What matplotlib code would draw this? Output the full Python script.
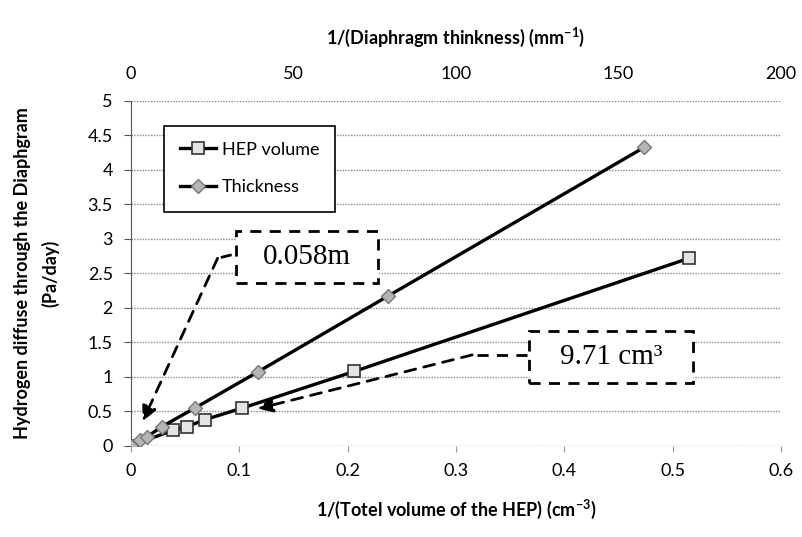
import matplotlib
matplotlib.use("Agg")
import matplotlib.pyplot as plt
from matplotlib.patches import Rectangle

# HEP volume series (bottom axis: 1/volume, cm^-3)
hep_x = [0, 0.039, 0.052, 0.068, 0.103, 0.206, 0.515]
hep_y = [0, 0.23, 0.28, 0.38, 0.55, 1.08, 2.72]

# Thickness series (top axis: 1/thickness, mm^-1)
thk_x = [0, 2.8, 4.9, 9.5, 19.7, 39.1, 79, 158]
thk_y = [0, 0.087, 0.13, 0.28, 0.55, 1.075, 2.17, 4.33]

yticks = [0, 0.5, 1, 1.5, 2, 2.5, 3, 3.5, 4, 4.5, 5]
bottom_ticks = [0, 0.1, 0.2, 0.3, 0.4, 0.5, 0.6]
top_ticks = [0, 50, 100, 150, 200]

plt.rcParams['font.family'] = ['Lato', 'DejaVu Sans']
plt.rcParams['mathtext.fontset'] = 'custom'
plt.rcParams['mathtext.rm'] = 'Lato'
plt.rcParams['mathtext.bf'] = 'Lato:bold'

fig = plt.figure(figsize=(8.03, 5.37), dpi=100)
ax = fig.add_axes([0.163, 0.1695, 0.8096, 0.6425])
ax2 = ax.twiny()

ln1, = ax.plot(hep_x, hep_y, color='black', lw=2.4, marker='s', ms=9,
               mfc='#e4e4e4', mec='#333333', mew=1.2, zorder=3)
ln2, = ax2.plot(thk_x, thk_y, color='black', lw=2.4, marker='D', ms=7,
                mfc='#b5b5b5', mec='#777777', mew=1, zorder=3)

ax.set_xlim(0, 0.6)
ax.set_ylim(0, 5)
ax2.set_xlim(0, 200)
ax.set_yticks(yticks)
ax.set_yticklabels(['0', '0.5', '1', '1.5', '2', '2.5', '3', '3.5', '4', '4.5', '5'])
ax.set_xticks(bottom_ticks)
ax.set_xticklabels(['0', '0.1', '0.2', '0.3', '0.4', '0.5', '0.6'])
ax2.set_xticks(top_ticks)

ax.yaxis.grid(True, linestyle=(0, (1, 1)), color='#8a8a8a', lw=1)
ax.set_axisbelow(True)
for a in (ax, ax2):
    a.spines['top'].set_visible(False)
    a.spines['right'].set_visible(False)
    a.spines['bottom'].set_visible(False)
ax.spines['left'].set_color('#555555')
ax2.spines['left'].set_visible(False)
ax.tick_params(axis='y', labelsize=13, length=5, color='#555555', pad=8)
ax.tick_params(axis='x', labelsize=13, length=4, color='#999999', pad=8)
ax2.tick_params(axis='x', labelsize=13, length=0, pad=14)

ax.set_xlabel(r'1/(Totel volume of the HEP) (cm$^{\mathbf{-3}}$)', fontsize=13,
              fontweight='bold', labelpad=14)
ax2.set_xlabel(r'1/(Diaphragm thinkness) (mm$^{\mathbf{-1}}$)', fontsize=13,
               fontweight='bold', labelpad=16)
ax.set_ylabel('Hydrogen diffuse through the Diaphgram\n(Pa/day)', fontsize=13,
              fontweight='bold', labelpad=20, linespacing=1.7)

leg = ax2.legend([ln1, ln2], ['HEP volume', 'Thickness'], loc='upper left',
                 bbox_to_anchor=(0.037, 0.955), fontsize=13, frameon=True,
                 fancybox=False, edgecolor='black', framealpha=1,
                 handlelength=2.0, handletextpad=0.3, labelspacing=1.2,
                 borderpad=0.9)
leg.get_frame().set_linewidth(1.2)

# dashed annotation boxes
for (x0, y0, w, h, txt) in [(0.097, 2.36, 0.131, 0.76, '0.058m'),
                            (0.367, 0.91, 0.152, 0.75, '9.71 cm³')]:
    ax.add_patch(Rectangle((x0, y0), w, h, fill=True, facecolor='white',
                           edgecolor='black', lw=2, ls=(0, (4, 3)), zorder=4))
    ax.text(x0 + w / 2, y0 + h / 2, txt, ha='center', va='center', fontsize=21,
            family='Liberation Serif', zorder=5)

# dashed arrows
ax.plot([0.093, 0.080], [2.77, 2.72], color='black', lw=2, ls=(0, (4, 3)), zorder=4)
ax.annotate('', xy=(0.011, 0.36), xytext=(0.080, 2.72),
            arrowprops=dict(arrowstyle='-|>', color='black', lw=2, ls=(0, (4, 3)),
                            mutation_scale=22, shrinkA=0, shrinkB=0), zorder=4)
ax.plot([0.366, 0.315], [1.32, 1.32], color='black', lw=2, ls=(0, (4, 3)), zorder=4)
ax.annotate('', xy=(0.117, 0.54), xytext=(0.315, 1.32),
            arrowprops=dict(arrowstyle='-|>', color='black', lw=2, ls=(0, (4, 3)),
                            mutation_scale=22, shrinkA=0, shrinkB=0), zorder=4)

fig.savefig('out.png', dpi=100)
